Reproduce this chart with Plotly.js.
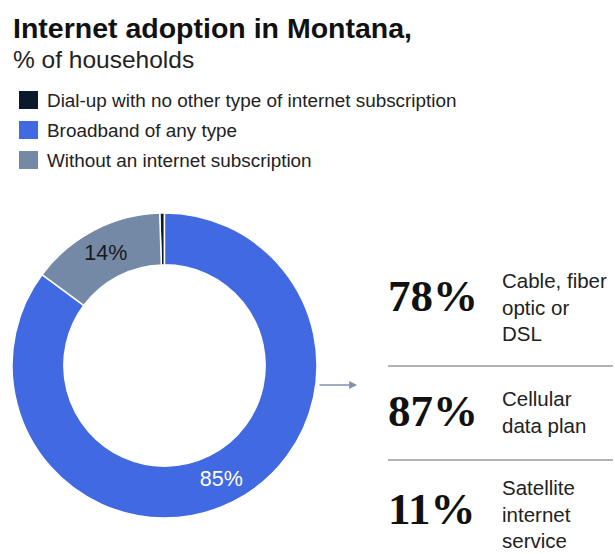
<!DOCTYPE html>
<html>
<head>
<meta charset="utf-8">
<script src="https://cdn.plot.ly/plotly-3.0.1.min.js"></script>
<style>html,body{margin:0;padding:0;background:#fff;}#chart{width:615px;height:554px;}</style>
</head>
<body>
<div id="chart"></div>
<script>
// ---- data ----
const sliceLabels = ["Dial-up with no other type of internet subscription", "Broadband of any type", "Without an internet subscription"];
const sliceValues = [0.5, 85, 14.3];
const sliceText = ["", "85%", "14%"];
const sliceColors = ["#0b1a2b", "#4169e1", "#7389a6"];
const sliceTextColors = ["#ffffff", "#ffffff", "#1a1a1a"];

const breakdownValues = [78, 87, 11];
const breakdownLabels = ["Cable, fiber<br>optic or<br>DSL", "Cellular<br>data plan", "Satellite<br>internet<br>service"];

const titleText = "Internet adoption in Montana,";
const subtitleText = "% of households";

// ---- layout helpers ----
const W = 615, H = 554;
const px = x => x / W;
const py = y => 1 - y / H;
const SANS = "Liberation Sans, Arial, sans-serif";

const total = sliceValues.reduce((a, b) => a + b, 0);
const rotation = -sliceValues[0] / total * 360;

const pie = {
  type: "pie",
  labels: sliceLabels,
  values: sliceValues,
  text: sliceText,
  textinfo: "text",
  textposition: "inside",
  insidetextorientation: "horizontal",
  insidetextfont: {family: SANS, size: 21.5, color: sliceTextColors},
  hole: 0.66,
  sort: false,
  direction: "clockwise",
  rotation: rotation,
  marker: {colors: sliceColors, line: {color: "#ffffff", width: 1.5}},
  domain: {x: [px(12), px(317)], y: [py(519), py(212)]},
  hoverinfo: "label+percent",
  showlegend: false
};

const annotations = [
  {text: "<b>" + titleText + "</b>", x: px(11), y: py(28), xref: "paper", yref: "paper", xanchor: "left", yanchor: "middle", showarrow: false,
   font: {family: SANS, size: 28.5, color: "#111"}},
  {text: subtitleText, x: px(11), y: py(60), xref: "paper", yref: "paper", xanchor: "left", yanchor: "middle", showarrow: false,
   font: {family: SANS, size: 24.5, color: "#222"}},
  {text: "", x: px(357), y: py(385), xref: "paper", yref: "paper", ax: -39, ay: 0, showarrow: true,
   arrowhead: 2, arrowsize: 1.2, arrowwidth: 1.3, arrowcolor: "#7f93ab"}
];

const shapes = [];

// legend (built from slice labels/colors)
const legendY = [100, 130, 160];
sliceLabels.forEach((lab, i) => {
  shapes.push({type: "rect", xref: "paper", yref: "paper", x0: px(19), x1: px(38), y0: py(legendY[i] + 9), y1: py(legendY[i] - 9),
    fillcolor: sliceColors[i], line: {width: 0}});
  annotations.push({text: lab, x: px(45), y: py(legendY[i]), xref: "paper", yref: "paper", xanchor: "left", yanchor: "middle", showarrow: false,
    font: {family: SANS, size: 18.9, color: "#222"}});
});

const rowNumY = [296, 411, 509];
const rowLabY = [307, 412, 514];
breakdownValues.forEach((v, i) => {
  annotations.push({text: "<b>" + v + "%</b>", x: px(386), y: py(rowNumY[i]), xref: "paper", yref: "paper", xanchor: "left", yanchor: "middle", showarrow: false,
    font: {family: "Liberation Serif, Times New Roman, serif", size: 45, color: "#111"}});
  annotations.push({text: breakdownLabels[i], x: px(500), y: py(rowLabY[i]), xref: "paper", yref: "paper", xanchor: "left", yanchor: "middle", align: "left", showarrow: false,
    font: {family: SANS, size: 20.5, color: "#222"}});
});

[366, 460].forEach(y => shapes.push({type: "line", xref: "paper", yref: "paper", x0: px(388), x1: px(613), y0: py(y), y1: py(y),
  line: {color: "#9a9a9a", width: 1.5}}));

const layout = {
  width: W, height: H,
  margin: {l: 0, r: 0, t: 0, b: 0},
  paper_bgcolor: "#ffffff",
  plot_bgcolor: "#ffffff",
  showlegend: false,
  annotations: annotations,
  shapes: shapes
};

Plotly.newPlot("chart", [pie], layout, {displayModeBar: false, staticPlot: true});
</script>
</body>
</html>
